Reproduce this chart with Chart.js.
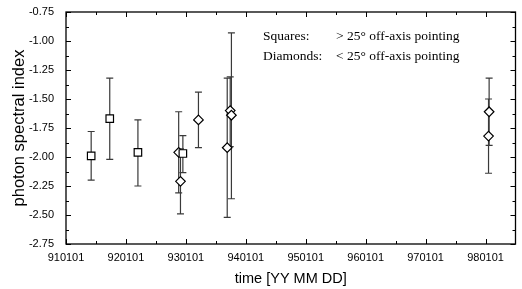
<!DOCTYPE html>
<html>
<head>
<meta charset="utf-8">
<script src="https://cdn.jsdelivr.net/npm/chart.js@4/dist/chart.umd.min.js"></script>
<style>
  html, body { margin: 0; padding: 0; background: #fff; }
  #wrap { width: 522px; height: 289px; }
</style>
</head>
<body>
<div id="wrap"><canvas id="specChart" width="522" height="289"></canvas></div>
<script>
// observation dates as decimal years, spectral index and error bar limits
const squareDates = [1991.42, 1991.73, 1992.20, 1992.95];
const squareIndex = [-1.99, -1.67, -1.96, -1.97];
const squareHigh = [-1.78, -1.32, -1.68, -1.815];
const squareLow = [-2.20, -2.02, -2.25, -2.135];

const diamondDates = [1992.88, 1992.91, 1993.21, 1993.69, 1993.74, 1993.76, 1998.06, 1998.05];
const diamondIndex = [-1.96, -2.21, -1.68, -1.92, -1.60, -1.64, -1.61, -1.82];
const diamondHigh = [-1.61, -1.93, -1.44, -1.32, -1.31, -0.93, -1.32, -1.50];
const diamondLow = [-2.31, -2.49, -1.92, -2.52, -1.91, -2.36, -1.90, -2.14];

const xTicks = [1991, 1992, 1993, 1994, 1995, 1996, 1997, 1998];
const xTickLabels = ["910101", "920101", "930101", "940101", "950101", "960101", "970101", "980101"];
const xMinorTicks = [1991.5, 1992.5, 1993.5, 1994.5, 1995.5, 1996.5, 1997.5];
const yTicks = [-2.75, -2.5, -2.25, -2.0, -1.75, -1.5, -1.25, -1.0, -0.75];
const yMinorTicks = [-2.625, -2.375, -2.125, -1.875, -1.625, -1.375, -1.125, -0.875];

const legendLines = [
  ["Squares:", "> 25\u00b0 off-axis pointing"],
  ["Diamonds:", "< 25\u00b0 off-axis pointing"],
];

const ctx = document.getElementById("specChart").getContext("2d");

function toPoints(xs, ys, hi, lo) {
  return xs.map((x, i) => ({ x: x, y: ys[i], hi: hi[i], lo: lo[i] }));
}

const errorBars = {
  id: "errorBars",
  beforeDatasetsDraw(chart) {
    const { ctx, scales } = chart;
    ctx.save();
    ctx.strokeStyle = "#3a3a3a";
    ctx.lineWidth = 1.2;
    chart.data.datasets.forEach((ds) => {
      ds.data.forEach((p) => {
        const x = scales.x.getPixelForValue(p.x);
        const yTop = scales.y.getPixelForValue(p.hi);
        const yBot = scales.y.getPixelForValue(p.lo);
        ctx.beginPath();
        ctx.moveTo(x, yTop);
        ctx.lineTo(x, yBot);
        ctx.moveTo(x - 3.5, yTop);
        ctx.lineTo(x + 3.5, yTop);
        ctx.moveTo(x - 3.5, yBot);
        ctx.lineTo(x + 3.5, yBot);
        ctx.stroke();
      });
    });
    ctx.restore();
  },
};

const frameTicks = {
  id: "frameTicks",
  afterDraw(chart) {
    const { ctx, chartArea, scales } = chart;
    const { left, right, top, bottom } = chartArea;
    ctx.save();
    ctx.strokeStyle = "#000";
    ctx.lineWidth = 1.3;
    ctx.strokeRect(left, top, right - left, bottom - top);
    ctx.lineWidth = 1;
    ctx.beginPath();
    const xt = (v, len) => {
      const x = Math.round(scales.x.getPixelForValue(v)) + 0.5;
      ctx.moveTo(x, bottom);
      ctx.lineTo(x, bottom - len);
      ctx.moveTo(x, top);
      ctx.lineTo(x, top + len);
    };
    const yt = (v, len) => {
      const y = Math.round(scales.y.getPixelForValue(v)) + 0.5;
      ctx.moveTo(left, y);
      ctx.lineTo(left + len, y);
      ctx.moveTo(right, y);
      ctx.lineTo(right - len, y);
    };
    xTicks.forEach((v) => xt(v, 5));
    xMinorTicks.forEach((v) => xt(v, 3));
    yTicks.forEach((v) => yt(v, 5));
    yMinorTicks.forEach((v) => yt(v, 3));
    ctx.stroke();

    // legend text
    ctx.fillStyle = "#000";
    ctx.font = "13.5px 'Liberation Serif', 'Times New Roman', serif";
    ctx.textBaseline = "middle";
    legendLines.forEach((line, i) => {
      const y = 36 + i * 20;
      ctx.fillText(line[0], 263, y);
      ctx.fillText(line[1], 336, y);
    });
    ctx.restore();
  },
};

new Chart(ctx, {
  type: "scatter",
  data: {
    datasets: [
      {
        label: "Squares",
        data: toPoints(squareDates, squareIndex, squareHigh, squareLow),
        pointStyle: "rect",
        pointRadius: 5.3,
        borderColor: "#000",
        backgroundColor: "#fff",
        borderWidth: 1.2,
      },
      {
        label: "Diamonds",
        data: toPoints(diamondDates, diamondIndex, diamondHigh, diamondLow),
        pointStyle: "rectRot",
        pointRadius: 4.8,
        borderColor: "#000",
        backgroundColor: "#fff",
        borderWidth: 1.2,
      },
    ],
  },
  options: {
    responsive: false,
    animation: false,
    events: [],
    layout: { padding: { top: 12, right: 2, left: 0, bottom: 0 } },
    plugins: {
      legend: { display: false },
      tooltip: { enabled: false },
    },
    scales: {
      x: {
        type: "linear",
        min: 1991,
        max: 1998.5,
        afterBuildTicks: (scale) => {
          scale.ticks = xTicks.map((v) => ({ value: v }));
        },
        afterFit: (scale) => {
          scale.height = 45;
          scale.paddingLeft = 0;
          scale.paddingRight = 0;
        },
        grid: { display: false, drawTicks: false },
        border: { display: false },
        ticks: {
          padding: 7,
          color: "#000",
          font: { family: "'Liberation Sans', Arial, sans-serif", size: 11 },
          maxRotation: 0,
          autoSkip: false,
          callback: (v) => xTickLabels[xTicks.indexOf(v)],
        },
        title: {
          display: true,
          text: "time [YY MM DD]",
          color: "#000",
          font: { family: "'Liberation Sans', Arial, sans-serif", size: 14.5 },
          padding: { top: 0, bottom: 1 },
        },
      },
      y: {
        min: -2.75,
        max: -0.75,
        afterBuildTicks: (scale) => {
          scale.ticks = yTicks.map((v) => ({ value: v }));
        },
        afterFit: (scale) => {
          scale.width = 66;
          scale.paddingTop = 0;
          scale.paddingBottom = 0;
        },
        grid: { display: false, drawTicks: false },
        border: { display: false },
        ticks: {
          padding: 12,
          color: "#000",
          font: { family: "'Liberation Sans', Arial, sans-serif", size: 11 },
          autoSkip: false,
          callback: (v) => v.toFixed(2),
        },
        title: {
          display: true,
          text: "photon spectral index",
          color: "#000",
          font: { family: "'Liberation Sans', Arial, sans-serif", size: 16.5 },
          padding: { top: 10, bottom: 0 },
        },
      },
    },
  },
  plugins: [errorBars, frameTicks],
});
</script>
</body>
</html>
